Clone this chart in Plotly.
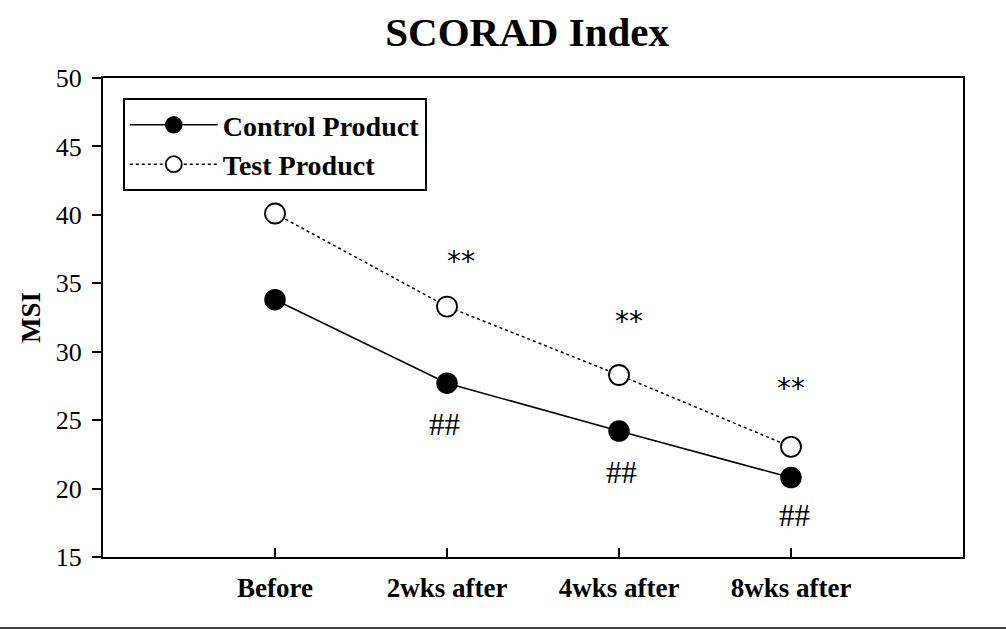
import plotly.graph_objects as go

categories = ["Before", "2wks after", "4wks after", "8wks after"]
control = [33.8, 27.7, 24.2, 20.8]
test = [40.1, 33.3, 28.3, 23.05]
star_labels = ["", "**", "**", "**"]
star_y = [None, 36.6, 32.2, 27.3]
hash_labels = ["", "##", "##", "##"]
hash_y = [None, 24.7, 21.2, 18.05]

FONT = "Liberation Serif"
x_idx = list(range(len(categories)))
star_xshift = [0, 14, 10, 0]
hash_xshift = [0, -3, 2, 3]

fig = go.Figure()
fig.add_trace(go.Scatter(
    x=x_idx, y=control, mode="lines+markers", name="<b>Control Product</b>",
    line=dict(color="black", width=1.6),
    marker=dict(size=20, color="black", line=dict(color="black", width=1.5)),
))
fig.add_trace(go.Scatter(
    x=x_idx, y=test, mode="lines+markers", name="<b>Test Product</b>",
    line=dict(color="black", width=1.5, dash="dot"),
    marker=dict(size=20, color="white", line=dict(color="black", width=1.8)),
))

for i in x_idx:
    if star_labels[i]:
        fig.add_annotation(x=i, y=star_y[i], text=star_labels[i], showarrow=False,
                           xshift=star_xshift[i],
                           font=dict(family="DejaVu Sans", size=28, color="black"))
    if hash_labels[i]:
        fig.add_annotation(x=i, y=hash_y[i], text=hash_labels[i], showarrow=False,
                           xshift=hash_xshift[i],
                           font=dict(family=FONT, size=31, color="black"))

fig.add_shape(type="line", xref="paper", yref="paper", x0=-0.2, x1=1.1,
              y0=-0.148, y1=-0.148, line=dict(color="black", width=1.5))

fig.update_layout(
    width=1006, height=630,
    margin=dict(l=103, r=43, t=78, b=73),
    paper_bgcolor="white", plot_bgcolor="white",
    title=dict(text="<b>SCORAD Index</b>", x=0.524, xanchor="center", y=0.95, yanchor="middle",
               font=dict(family=FONT, size=41, color="black")),
    font=dict(family=FONT, color="black"),
    legend=dict(x=0.023, y=0.958, xanchor="left", yanchor="top",
                bordercolor="black", borderwidth=2, bgcolor="white",
                font=dict(family=FONT, size=28, color="black"),
                tracegroupgap=0, itemwidth=88),
    showlegend=True,
)
fig.update_xaxes(
    range=[-1, 4], tickmode="array", tickvals=x_idx,
    ticktext=["<b>%s</b>" % c for c in categories],
    ticks="inside", ticklen=9, tickwidth=1.5, tickcolor="black",
    showline=True, linecolor="black", linewidth=2, mirror=True,
    showgrid=False, zeroline=False, ticklabelstandoff=6,
    tickfont=dict(family=FONT, size=27, color="black"),
)
fig.update_yaxes(
    range=[15, 50], tickmode="array", tickvals=[15, 20, 25, 30, 35, 40, 45, 50],
    ticks="outside", ticklen=9, tickwidth=1.5, tickcolor="black",
    showline=True, linecolor="black", linewidth=2, mirror=True,
    showgrid=False, zeroline=False, ticklabelstandoff=5,
    tickfont=dict(family=FONT, size=26, color="black"),
    title=dict(text="<b>MSI</b>", font=dict(family=FONT, size=27, color="black"), standoff=7),
)

fig.write_html("out.html")
